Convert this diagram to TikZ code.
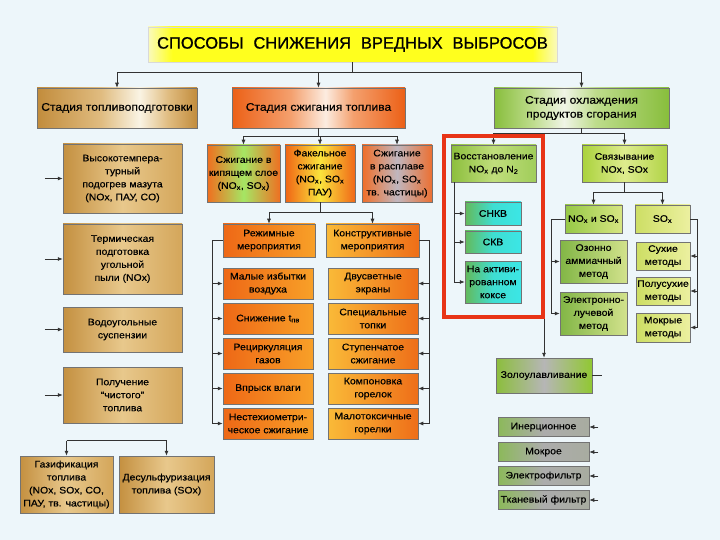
\documentclass[tikz,border=0pt]{standalone}
\usepackage{fontspec}
\setmainfont{Liberation Sans}[FakeStretch=1.1,FakeBold=0.4]
\newfontfamily\titlefont{Liberation Sans}[FakeBold=0.8]
\usetikzlibrary{arrows.meta}
\definecolor{bgc}{RGB}{237,246,250}
\definecolor{gA}{RGB}{194,140,60}
\definecolor{gB}{RGB}{224,188,128}
\definecolor{gW}{RGB}{250,244,228}
\definecolor{oA}{RGB}{236,96,22}
\definecolor{oB}{RGB}{244,160,110}
\definecolor{oW}{RGB}{252,236,224}
\definecolor{grA}{RGB}{136,190,60}
\definecolor{grB}{RGB}{190,220,140}
\definecolor{grW}{RGB}{240,245,230}
\definecolor{yA}{RGB}{255,255,30}
\definecolor{yE}{RGB}{250,250,190}
\definecolor{redf}{RGB}{232,52,22}
\definecolor{lnc}{RGB}{50,50,50}
\pgfdeclarehorizontalshading{goldstage}{100bp}{color(0bp)=(gA); color(25bp)=(gA); color(45bp)=(gB); color(57bp)=(gW); color(66bp)=(gB); color(75bp)=(gA); color(100bp)=(gA)}
\pgfdeclarehorizontalshading{orangestage}{100bp}{color(0bp)=(oA); color(25bp)=(oA); color(42bp)=(oB); color(52bp)=(oW); color(60bp)=(oB); color(75bp)=(oA); color(100bp)=(oA)}
\pgfdeclarehorizontalshading{greenstage}{100bp}{color(0bp)=(grA); color(25bp)=(grA); color(36bp)=(grB); color(45bp)=(grW); color(54bp)=(grB); color(75bp)=(grA); color(100bp)=(grA)}
\pgfdeclarehorizontalshading{titleshade}{100bp}{color(0bp)=(yE); color(25bp)=(yE); color(28bp)=(yA); color(72bp)=(yA); color(75bp)=(yE); color(100bp)=(yE)}
% three-stop horizontal shadings: #1 name, #2 left, #3 middle, #4 right (RGB triples)
\newcommand{\hshade}[4]{%
  \definecolor{#1L}{RGB}{#2}\definecolor{#1M}{RGB}{#3}\definecolor{#1R}{RGB}{#4}%
  \pgfdeclarehorizontalshading{#1}{100bp}{color(0bp)=(#1L); color(25bp)=(#1L); color(50bp)=(#1M); color(75bp)=(#1R); color(100bp)=(#1R)}}
\hshade{shgold}{196,144,64}{232,200,140}{212,166,90}
\hshade{shkip}{240,110,30}{165,230,100}{238,112,34}
\hshade{shfak}{240,100,20}{250,228,60}{240,104,24}
\hshade{shras}{240,110,40}{192,182,190}{236,112,50}
\hshade{shorL}{238,104,22}{243,132,31}{248,160,40}
\hshade{shorR}{250,186,56}{244,148,40}{238,110,24}
\hshade{shvgr}{140,190,60}{192,222,124}{160,205,90}
\hshade{shcya}{100,185,90}{62,222,210}{60,230,230}
\hshade{shsgr}{170,210,60}{222,236,142}{178,212,72}
\hshade{shngr}{150,200,70}{182,215,100}{215,230,130}
\hshade{shygr}{205,222,100}{220,231,130}{236,240,160}
\hshade{shogr}{130,182,70}{170,204,105}{210,226,140}
\hshade{shzgr}{140,190,60}{182,182,182}{145,200,50}
\hshade{shqgr}{140,185,90}{172,172,172}{168,172,160}
\tikzset{
  box/.style={draw=black!55, line width=0.5pt, inner sep=0pt},
  txt/.style={inner sep=0pt, align=center, font=\fontsize{9.5}{13}\selectfont, text=black},
  stagetxt/.style={font=\fontsize{11}{14}\selectfont},
  gold/.style={box, shade, shading=shgold},
  mkip/.style={box, shade, shading=shkip},
  mfak/.style={box, shade, shading=shfak},
  mras/.style={box, shade, shading=shras},
  orL/.style={box, shade, shading=shorL},
  orR/.style={box, shade, shading=shorR},
  vgreen/.style={box, shade, shading=shvgr},
  cyanb/.style={box, shade, shading=shcya},
  sgreen/.style={box, shade, shading=shsgr},
  ngreen/.style={box, shade, shading=shngr},
  ygreen/.style={box, shade, shading=shygr},
  ogreen/.style={box, shade, shading=shogr},
  zgreen/.style={box, shade, shading=shzgr},
  qgray/.style={box, shade, shading=shqgr},
  con/.style={draw=lnc, line width=0.7pt},
  arr/.style={con, -{Latex[length=5pt,width=4pt]}}
}
% #1 text options, #2 box style, #3 name, #4 cx, #5 cy, #6 width, #7 height, #8 text
\newcommand{\mybox}[8][]{%
  \node[#2, minimum width=#6pt, minimum height=#7pt] (#3) at (#4,#5) {};
  \node[txt,#1] (#3t) at (#3.center) {\color{black}#8};}
\begin{document}
\begin{tikzpicture}[x=1pt,y=-1pt]
\useasboundingbox (0,0) rectangle (720,540);
\fill[bgc] (0,0) rectangle (720,540);
% title and stages
\mybox[font=\titlefont\fontsize{16.5}{18}\selectfont]{box, draw=black!15, shade, shading=titleshade}{T}{352.5}{44.5}{409}{35}{СПОСОБЫ\hspace{0.6em}СНИЖЕНИЯ\hspace{0.6em}ВРЕДНЫХ\hspace{0.6em}ВЫБРОСОВ}
\mybox[stagetxt]{box, shade, shading=goldstage}{st1}{117}{108}{160}{40}{Стадия топливоподготовки}
\mybox[stagetxt]{box, shade, shading=orangestage}{st2}{318.5}{108}{173}{40}{Стадия сжигания топлива}
\mybox[stagetxt]{box, shade, shading=greenstage}{st3}{581.5}{108}{175}{40}{Стадия охлаждения\\продуктов сгорания}
% left column
\mybox{gold}{L1}{122.5}{178.5}{119}{69}{Высокотемпера-\\турный\\подогрев мазута\\(NOx, ПАУ, CO)}
\mybox{gold}{L2}{122.5}{259}{119}{70}{Термическая\\подготовка\\угольной\\пыли (NOx)}
\mybox{gold}{L3}{122.5}{329.5}{119}{45}{Водоугольные\\суспензии}
\mybox{gold}{L4}{122.5}{395}{119}{56}{Получение\\“чистого”\\топлива}
\mybox{gold}{G1}{66.5}{484.5}{93}{57}{Газификация\\топлива\\(NOx, SOx, CO,\\ПАУ, тв. частицы)}
\mybox{gold}{G2}{166.5}{484.5}{95}{57}{Десульфуризация\\топлива (SOx)}
% middle
\mybox{mkip}{M1}{243.5}{173.5}{73}{57}{Сжигание в\\кипящем слое\\(NO\textsubscript{x}, SO\textsubscript{x})}
\mybox{mfak}{M2}{320}{173.5}{70}{57}{Факельное\\сжигание\\(NO\textsubscript{x}, SO\textsubscript{x}\\ПАУ)}
\mybox{mras}{M3}{397}{173.5}{70}{57}{Сжигание\\в расплаве\\(NO\textsubscript{x}, SO\textsubscript{x}\\тв. частицы)}
\mybox{orL}{R1}{269}{240.5}{92}{33}{Режимные\\мероприятия}
\mybox{orR}{R2}{372.5}{240.5}{93}{33}{Конструктивные\\мероприятия}
\mybox{orL}{A1}{268}{283.5}{90}{31}{Малые избытки\\воздуха}
\mybox{orL}{A2}{268}{318.5}{90}{31}{Снижение t\textsubscript{пв}}
\mybox{orL}{A3}{268}{353.5}{90}{31}{Рециркуляция\\газов}
\mybox{orL}{A4}{268}{388.5}{90}{31}{Впрыск влаги}
\mybox{orL}{A5}{268}{423.5}{90}{31}{Нестехиометри-\\ческое сжигание}
\mybox{orR}{B1}{373}{283.5}{90}{31}{Двусветные\\экраны}
\mybox{orR}{B2}{373}{318.5}{90}{31}{Специальные\\топки}
\mybox{orR}{B3}{373}{353.5}{90}{31}{Ступенчатое\\сжигание}
\mybox{orR}{B4}{373}{388.5}{90}{31}{Компоновка\\горелок}
\mybox{orR}{B5}{373}{423.5}{90}{31}{Малотоксичные\\горелки}
% right
\mybox{vgreen}{V0}{493.5}{163.5}{85}{37}{Восстановление\\NO\textsubscript{x} до N\textsubscript{2}}
\mybox{cyanb}{C1}{493}{213.5}{56}{23}{СНКВ}
\mybox{cyanb}{C2}{493}{242}{56}{22}{СКВ}
\mybox{cyanb}{C3}{493}{282}{56}{42}{На активи-\\рованном\\коксе}
\mybox{sgreen}{S1}{624.5}{163.5}{85}{37}{Связывание\\NOx, SOx}
\mybox{ngreen}{N1}{593.5}{219}{57}{28}{NO\textsubscript{x} и SO\textsubscript{x}}
\mybox{ygreen}{N2}{662.5}{219}{55}{28}{SO\textsubscript{x}}
\mybox{ogreen}{O1}{593.5}{261.5}{67}{43}{Озонно\\аммиачный\\метод}
\mybox{ogreen}{O2}{593.5}{313.5}{67}{43}{Электронно-\\лучевой\\метод}
\mybox{ygreen}{P1}{663}{256}{54}{28}{Сухие\\методы}
\mybox{ygreen}{P2}{663}{291}{54}{28}{Полусухие\\методы}
\mybox{ygreen}{P3}{663}{327.5}{54}{29}{Мокрые\\методы}
\mybox{zgreen}{Z}{544}{375.5}{96}{35}{Золоулавливание}
\mybox{qgray}{Q1}{543.5}{427}{91}{19}{Инерционное}
\mybox{qgray}{Q2}{543.5}{452}{91}{19}{Мокрое}
\mybox{qgray}{Q3}{543.5}{476}{91}{19}{Электрофильтр}
\mybox{qgray}{Q4}{543.5}{500}{91}{19}{Тканевый фильтр}
% connectors: top
\draw[arr] (T.south) -- ++(0,10) -| (st1.north);
\draw[arr] (T.south) -- ++(0,10) -| (st2.north);
\draw[arr] (T.south) -- ++(0,10) -| (st3.north);
% left
\foreach \n in {L1,L2,L3,L4} \draw[arr] ([xshift=-18pt]\n.west) -- (\n.west);
\draw[con] ([yshift=15pt]G1.north) -- ([yshift=15pt]G2.north);
\draw[arr] ([yshift=15pt]G1.north) -- (G1.north);
\draw[arr] ([yshift=15pt]G2.north) -- (G2.north);
% middle
\foreach \n in {M1,M2,M3} \draw[arr] (st2.south) -- ++(0,8) -| (\n.north);
\foreach \n in {R1,R2} \draw[arr] (M2.south) -- ++(0,10) -| (\n.north);
\foreach \n in {A1,A2,A3,A4,A5} \draw[arr] (R1.west) -- ++(-10,0) |- (\n.west);
\foreach \n in {B1,B2,B3,B4,B5} \draw[arr] (R2.east) -- ++(10,0) |- (\n.east);
% right
\foreach \n in {V0,S1,Z} \draw[arr] (st3.south) -- ++(0,5) -| (\n.north);
\foreach \n in {C1,C2,C3} \draw[arr] ([xshift=4pt]V0.south west) |- (\n.west);
\foreach \n in {N1,N2} \draw[arr] (S1.south) -- ++(0,10) -| (\n.north);
\foreach \n in {O1,O2} \draw[arr] (N1.west) -- ++(-13,0) |- (\n.west);
\foreach \n in {P1,P2,P3} \draw[arr] (N2.east) -- ++(7,0) |- (\n.east);
\draw[con] (Z.east) -- ++(10,0);
\foreach \n in {Q1,Q2,Q3,Q4} \draw[arr] ([xshift=9pt]\n.east) -- (\n.east);
% red frame
\node[draw=redf, line width=4pt, minimum width=99pt, minimum height=181pt, inner sep=0pt] (frame) at (493.5,226.5) {};
\end{tikzpicture}
\end{document}
